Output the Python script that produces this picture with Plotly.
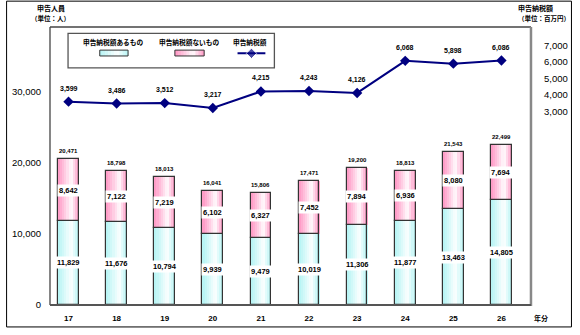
import plotly.graph_objects as go

years = [17, 18, 19, 20, 21, 22, 23, 24, 25, 26]
year_labels = ["17", "18", "19", "20", "21", "22", "23", "24", "25", "26"]
with_tax = [11829, 11676, 10794, 9939, 9479, 10019, 11306, 11877, 13463, 14805]
without_tax = [8642, 7122, 7219, 6102, 6327, 7452, 7894, 6936, 8080, 7694]
tax_amount = [3599, 3486, 3512, 3217, 4215, 4243, 4126, 6068, 5898, 6086]
left_ticks = [0, 10000, 20000, 30000]
right_ticks = [3000, 4000, 5000, 6000, 7000]

totals = [a + b for a, b in zip(with_tax, without_tax)]

FONT = "Liberation Sans, Arial, Noto Sans CJK JP"
JFONT = "Noto Sans CJK JP, Liberation Sans"

W = 0.43
N = 10
CYAN_EDGE = (180, 244, 244)
PINK_EDGE = (255, 150, 196)


def mix(edge, t, hi=0.62):
    f = (hi - t) / hi if t < hi else (t - hi) / (1 - hi)
    f = min(1.0, max(0.0, f)) ** 0.9
    c = [round(255 * (1 - f) + e * f) for e in edge]
    return "rgb(%d,%d,%d)" % tuple(c)


def px(x):
    return (x - 45) / 492


def py(y):
    return (312 - y) / 285


fig = go.Figure()

for vals, bases, edge in [(with_tax, [0] * len(years), CYAN_EDGE),
                          (without_tax, with_tax, PINK_EDGE)]:
    for j in range(N):
        t = (j + 0.5) / N
        fig.add_trace(go.Bar(
            x=years, y=vals, base=bases,
            width=W / N * 1.08, offset=-W / 2 + j * W / N,
            marker=dict(color=mix(edge, t), line=dict(width=0)),
            showlegend=False, hoverinfo="skip"))
    fig.add_trace(go.Bar(
        x=years, y=vals, base=bases, width=W, offset=-W / 2,
        marker=dict(color="rgba(0,0,0,0)", line=dict(color="#333333", width=1.2)),
        showlegend=False, hoverinfo="skip"))

fig.add_trace(go.Scatter(
    x=years, y=tax_amount, yaxis="y2", mode="lines+markers",
    line=dict(color="#000080", width=2),
    marker=dict(symbol="diamond", size=8, color="#000080"),
    showlegend=False, hoverinfo="skip"))

# legend symbol for the line series, in its own small hidden axes
fig.add_trace(go.Scatter(
    x=[0, 0.5, 1], y=[0, 0, 0], xaxis="x3", yaxis="y3", mode="lines+markers",
    line=dict(color="#000080", width=2),
    marker=dict(symbol="diamond", size=[0, 8, 0], color="#000080"),
    showlegend=False, hoverinfo="skip", cliponaxis=False))

ann = []
for x, a, b, tot, tx in zip(years, with_tax, without_tax, totals, tax_amount):
    ann.append(dict(x=x, y=a / 2, xref="x", yref="y", text=f"{a:,}", showarrow=False,
                    bgcolor="white", borderpad=1,
                    font=dict(family=FONT, size=7.5, color="black", weight="bold")))
    ann.append(dict(x=x, y=a + b / 2, xref="x", yref="y", text=f"{b:,}", showarrow=False,
                    bgcolor="white", borderpad=1,
                    font=dict(family=FONT, size=7.5, color="black", weight="bold")))
    ann.append(dict(x=x, y=tot, xref="x", yref="y", text=f"{tot:,}", showarrow=False,
                    yshift=8, font=dict(family=FONT, size=6, color="black", weight="bold")))
    ann.append(dict(x=x, y=tx, xref="x", yref="y2", text=f"{tx:,}", showarrow=False,
                    yshift=13, font=dict(family=FONT, size=7, color="black", weight="bold")))


def txt(x, y, s, size=7, bold=True, family=JFONT):
    ann.append(dict(x=px(x), y=py(y), xref="paper", yref="paper", text=s, showarrow=False,
                    xanchor="center", yanchor="middle",
                    font=dict(family=family, size=size, color="black",
                              weight="bold" if bold else "normal")))


txt(46.5, 7.5, "申告人員", 7)
txt(45.5, 18, "（単位：人）", 6.5)
txt(542.5, 7.5, "申告納税額", 7)
txt(551, 18, "（単位：百万円）", 6.5)
txt(548, 325, "年分", 7)

# legend
txt(110, 42.3, "申告納税額あるもの", 6.7)
txt(187, 42.3, "申告納税額ないもの", 6.7)
txt(250, 42.3, "申告納税額", 6.7)

shapes = []
# outer border
shapes.append(dict(type="rect", xref="paper", yref="paper", x0=px(0.5), x1=px(579.5),
                   y0=py(334.5), y1=py(0.5), line=dict(color="black", width=1), layer="above"))
# plot border
shapes.append(dict(type="line", xref="paper", yref="paper", x0=px(45), x1=px(45),
                   y0=py(312), y1=py(27), line=dict(color="#444444", width=1.3)))
shapes.append(dict(type="line", xref="paper", yref="paper", x0=px(45), x1=px(538),
                   y0=py(27), y1=py(27), line=dict(color="#444444", width=1.3)))
shapes.append(dict(type="line", xref="paper", yref="paper", x0=px(538), x1=px(538),
                   y0=py(313), y1=py(27), line=dict(color="#888888", width=2.5)))
shapes.append(dict(type="line", xref="paper", yref="paper", x0=px(45), x1=px(538),
                   y0=py(312), y1=py(312), line=dict(color="#555555", width=2)))
# legend box (below traces so the line symbol shows on top)
shapes.append(dict(type="rect", xref="paper", yref="paper", x0=px(63.5), x1=px(275),
                   y0=py(69), y1=py(33.5), fillcolor="white",
                   line=dict(color="#555555", width=1.3), layer="below"))
# legend swatches with gradient
for (x0, x1), edge in [((96, 125), CYAN_EDGE), ((173, 203), PINK_EDGE)]:
    n = 10
    for j in range(n):
        t = (j + 0.5) / n
        a = x0 + (x1 - x0) * j / n
        b = x0 + (x1 - x0) * (j + 1) / n
        shapes.append(dict(type="rect", xref="paper", yref="paper", x0=px(a), x1=px(b + 0.3),
                           y0=py(56.7), y1=py(50.7), fillcolor=mix(edge, t),
                           line=dict(width=0), layer="above"))
    shapes.append(dict(type="rect", xref="paper", yref="paper", x0=px(x0), x1=px(x1),
                       y0=py(56.7), y1=py(50.7), line=dict(color="#333333", width=1),
                       layer="above"))

fig.update_layout(
    width=580, height=335,
    margin=dict(l=45, r=42, t=27, b=23),
    paper_bgcolor="white", plot_bgcolor="white",
    barmode="overlay", bargap=0,
    font=dict(family=FONT, color="black"),
    xaxis=dict(range=[16.615, 26.594], tickvals=years, ticktext=year_labels,
               showgrid=False, zeroline=False, showline=False, ticks="",
               ticklabelstandoff=7,
               tickfont=dict(family=FONT, size=8, color="black", weight="bold")),
    yaxis=dict(range=[0, 39100], tickvals=left_ticks,
               ticktext=[f"{v:,}" for v in left_ticks],
               showgrid=False, zeroline=False, showline=False, ticks="",
               ticklabelstandoff=8,
               tickfont=dict(family=FONT, size=9.5, color="black")),
    yaxis2=dict(range=[-8707, 8117], overlaying="y", side="right", tickvals=right_ticks,
                ticktext=[f"{v:,}" for v in right_ticks],
                showgrid=False, zeroline=False, showline=False, ticks="",
                ticklabelstandoff=13,
                tickfont=dict(family=FONT, size=9.5, color="black")),
    xaxis3=dict(domain=[px(237), px(266)], range=[0, 1], anchor="y3", visible=False,
                fixedrange=True),
    yaxis3=dict(domain=[py(58), py(50)], range=[-1, 1], anchor="x3", visible=False,
                fixedrange=True),
    annotations=ann, shapes=shapes,
)

fig.write_html("out.html")
